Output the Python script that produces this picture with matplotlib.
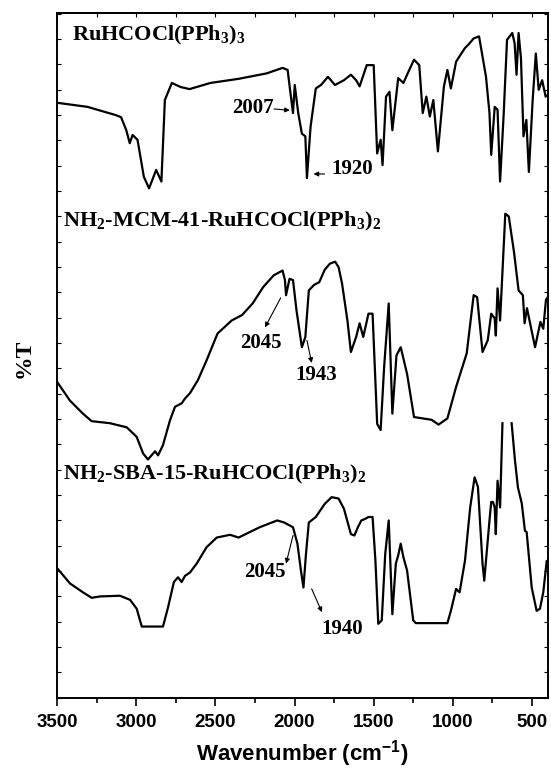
import numpy as np
import matplotlib.pyplot as plt
from matplotlib.ticker import MultipleLocator

plt.rcParams['mathtext.fontset'] = 'custom'
plt.rcParams['mathtext.rm'] = 'Liberation Serif:bold'
plt.rcParams['mathtext.bf'] = 'Liberation Serif:bold'
plt.rcParams['mathtext.sf'] = 'Liberation Sans:bold'

# RuHCOCl(PPh3)3
wn1 = [3500, 3308, 3130, 3097, 3064, 3042, 3024, 2993, 2953, 2920, 2875, 2842, 2820, 2776, 2720,
       2664, 2620, 2532, 2354, 2176, 2076, 2044, 2026, 2010, 1999, 1977, 1954, 1932, 1922, 1899,
       1866, 1833, 1789, 1745, 1688, 1644, 1611, 1589, 1544, 1500, 1478, 1456, 1444, 1422, 1400,
       1382, 1345, 1312, 1285, 1245, 1212, 1190, 1167, 1145, 1123, 1094, 1056, 1034, 1012, 979,
       957, 923, 901, 868, 834, 819, 790, 768, 757, 735, 717, 701, 679, 657, 624, 609, 597, 584,
       569, 553, 535, 519, 495, 475, 457, 435, 413, 400]
t1 = [86.9, 86.3, 85.1, 84.8, 82.9, 81.0, 82.2, 81.5, 76.1, 74.4, 77.1, 75.4, 87.3, 89.8, 89.2,
      88.9, 89.2, 89.8, 90.4, 91.2, 92.0, 91.7, 88.3, 85.4, 89.5, 85.4, 82.4, 82.0, 75.9, 83.4,
      89.0, 89.5, 90.7, 89.5, 90.2, 91.0, 90.2, 89.3, 92.4, 92.4, 79.5, 81.5, 77.8, 87.8, 88.5,
      82.9, 90.5, 89.8, 91.2, 93.2, 92.4, 85.4, 87.8, 84.9, 87.3, 79.8, 89.3, 91.7, 89.0, 92.9,
      93.7, 94.9, 95.4, 96.3, 96.6, 94.6, 90.7, 85.4, 79.3, 86.3, 85.9, 75.4, 84.9, 96.1, 97.1,
      95.6, 91.0, 97.1, 93.4, 82.0, 84.4, 76.8, 87.3, 94.1, 88.8, 90.2, 87.8, 88.0]

# NH2-MCM-41-RuHCOCl(PPh3)2
wn2 = [3500, 3420, 3338, 3283, 3167, 3061, 2998, 2958, 2927, 2882, 2863, 2832, 2788, 2756, 2714,
       2693, 2661, 2611, 2556, 2487, 2398, 2332, 2265, 2198, 2132, 2076, 2061, 2054, 2032, 2010,
       1988, 1954, 1932, 1910, 1877, 1844, 1810, 1777, 1744, 1722, 1700, 1666, 1644, 1611, 1589,
       1566, 1533, 1507, 1478, 1456, 1434, 1405, 1382, 1356, 1329, 1289, 1245, 1134, 1090, 1034,
       979, 912, 868, 846, 812, 779, 757, 735, 728, 717, 701, 668, 646, 613, 584, 557, 546, 531,
       480, 446, 428, 411, 400]
t2 = [46.1, 43.4, 41.5, 40.4, 40.1, 39.5, 38.1, 35.7, 34.8, 36.0, 35.4, 36.9, 40.5, 42.5, 43.0,
      43.7, 44.5, 46.4, 49.3, 53.2, 55.1, 55.9, 57.6, 60.0, 61.7, 62.4, 61.0, 58.8, 61.2, 61.0,
      56.6, 51.2, 52.7, 59.5, 60.3, 60.7, 62.5, 63.4, 63.7, 62.9, 60.5, 55.1, 50.5, 52.7, 54.7,
      52.7, 56.1, 56.1, 40.0, 39.1, 48.3, 57.6, 41.5, 50.0, 51.2, 47.3, 41.0, 40.6, 39.9, 40.8,
      45.4, 50.3, 58.8, 58.5, 50.5, 52.2, 56.1, 55.4, 52.9, 59.8, 55.1, 70.7, 70.3, 65.1, 59.5,
      58.8, 54.7, 56.9, 51.2, 54.9, 53.9, 58.1, 58.5]

# NH2-SBA-15-RuHCOCl(PPh3)2 (strong band near 650 is cut off)
wn3 = [3500, 3420, 3338, 3283, 3230, 3104, 3040, 2998, 2966, 2832, 2800, 2763, 2737, 2714, 2693,
       2661, 2619, 2556, 2492, 2408, 2354, 2310, 2221, 2110, 2066, 2010, 1982, 1960, 1944, 1928,
       1910, 1866, 1810, 1766, 1722, 1688, 1644, 1622, 1600, 1578, 1556, 1533, 1507, 1489, 1471,
       1449, 1427, 1405, 1382, 1360, 1345, 1329, 1312, 1289, 1250, 1234, 1034, 1012, 979, 957,
       923, 890, 862, 841, 812, 801, 768, 757, 746, 735, 728, 717, 701, 686, 657, 628, 607, 588,
       564, 544, 533, 501, 470, 449, 428, 406, 400]
t3 = [18.9, 16.7, 15.4, 14.6, 14.8, 14.9, 14.3, 13.0, 10.4, 10.4, 13.2, 16.9, 17.6, 16.9, 17.8,
      18.3, 19.6, 22.0, 23.4, 23.8, 23.4, 23.9, 24.9, 25.9, 25.6, 24.9, 22.5, 18.6, 16.1, 21.0,
      25.6, 26.4, 28.3, 29.3, 29.1, 27.6, 23.9, 23.7, 24.9, 25.9, 26.1, 26.4, 26.4, 20.0, 10.8,
      11.3, 21.0, 25.9, 12.2, 19.6, 20.8, 22.5, 20.5, 18.6, 11.3, 10.9, 10.9, 12.7, 15.9, 15.4,
      20.0, 27.8, 32.2, 30.8, 19.6, 17.1, 25.9, 28.6, 28.6, 27.8, 23.9, 31.7, 27.8, 40.1, np.nan,
      40.1, 34.7, 30.7, 28.4, 24.4, 24.2, 16.1, 12.7, 13.0, 15.4, 20.0, 19.6]

names = [r'RuHCOCl(PPh$_3$)$_3$',
         r'NH$_2$-MCM-41-RuHCOCl(PPh$_3$)$_2$',
         r'NH$_2$-SBA-15-RuHCOCl(PPh$_3$)$_2$']
name_pos = [(3407, 96.8), (3464, 69.6), (3464, 32.6)]

# peak labels: text, text position, arrow tail, arrow head
peaks = [('2007', (2265, 86.1), (2130, 86.0), (2030, 85.8)),
         ('1920', (1637, 77.2), (1810, 76.5), (1880, 76.5)),
         ('2045', (2210, 51.8), (2088, 58.4), (2187, 54.1)),
         ('1943', (1861, 47.1), (1922, 52.2), (1892, 48.9)),
         ('2045', (2187, 18.3), (2010, 23.7), (2054, 19.6)),
         ('1940', (1700, 10.1), (1892, 15.9), (1827, 12.5))]

fig = plt.figure(figsize=(5.51, 7.71), dpi=100)
ax = fig.add_axes([0.104, 0.095, 0.890, 0.888])

for wn, t in [(wn1, t1), (wn2, t2), (wn3, t3)]:
    ax.plot(wn, t, color='black', lw=1.6)

for name, (x, y) in zip(names, name_pos):
    ax.text(x, y, name, family='Liberation Serif', weight='bold', fontsize=16,
            ha='left', va='center')

for lab, (tx, ty), tail, head in peaks:
    ax.text(tx, ty, lab, family='Liberation Serif', weight='bold', fontsize=15,
            ha='center', va='center')
    ax.annotate('', xy=head, xytext=tail,
                arrowprops=dict(arrowstyle='-|>', color='black', lw=0.8,
                                mutation_scale=7, shrinkA=0, shrinkB=0))

ax.set_xlim(3500, 400)
ax.set_ylim(0, 100)
ax.xaxis.set_major_locator(MultipleLocator(500))
ax.xaxis.set_minor_locator(MultipleLocator(250))
ax.yaxis.set_major_locator(MultipleLocator(3.7))
ax.tick_params(axis='x', which='major', direction='out', length=6, width=1.2,
               labelsize=13.5, pad=6)
ax.tick_params(axis='x', which='minor', direction='out', length=3.5, width=1.2)
ax.tick_params(axis='y', which='both', direction='in', length=3, width=0.8,
               left=True, right=True, labelleft=False)
for lab in ax.get_xticklabels():
    lab.set_family('Liberation Sans')
    lab.set_weight('bold')

top = ax.secondary_xaxis('top')
top.xaxis.set_major_locator(MultipleLocator(500))
top.xaxis.set_minor_locator(MultipleLocator(250))
top.tick_params(axis='x', which='both', direction='in', length=3, width=0.8, labeltop=False)

for sp in ax.spines.values():
    sp.set_linewidth(1.4)
top.spines['top'].set_linewidth(1.4)

ax.set_xlabel(r'Wavenumber (cm$\mathsf{^{-1}}$)', family='Liberation Sans', weight='bold',
              fontsize=16, labelpad=5)
fig.text(24 / 551, 1 - 358 / 771, '%T', family='Liberation Serif', weight='bold',
         fontsize=17, rotation=90, ha='center', va='center')

fig.savefig('out.png', dpi=100)
